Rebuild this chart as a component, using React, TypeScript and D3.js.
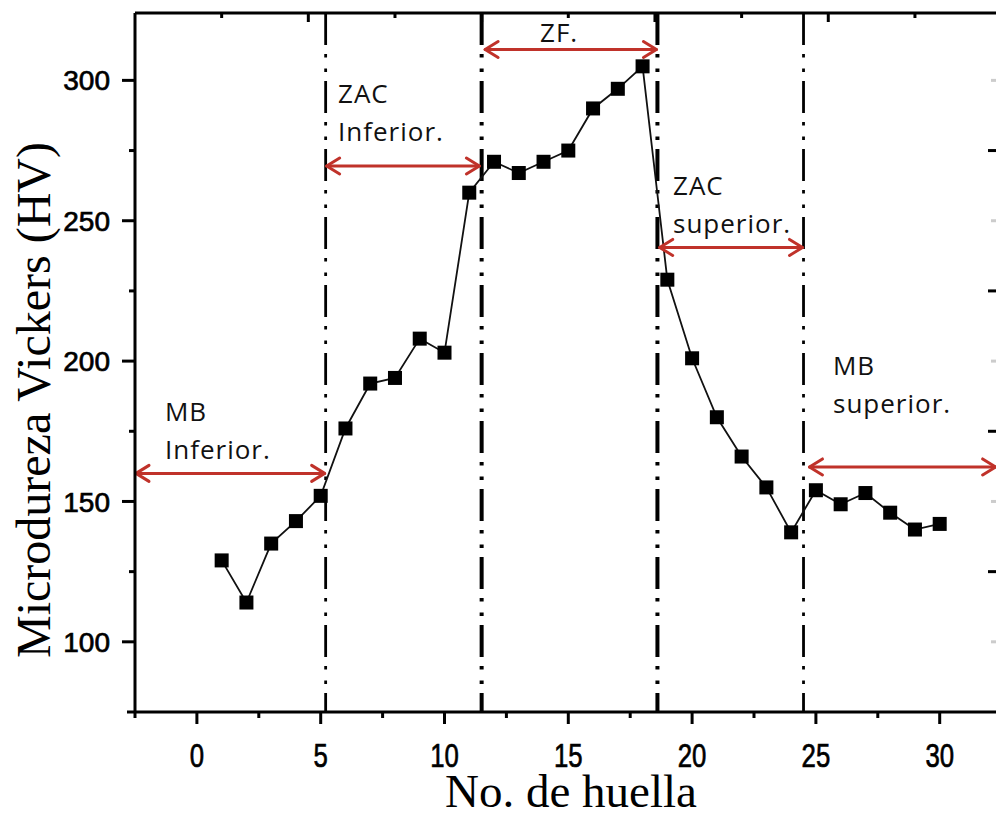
import React from 'react';
import * as d3 from 'd3';

const huella = [1, 2, 3, 4, 5, 6, 7, 8, 9, 10, 11, 12, 13, 14, 15, 16, 17, 18, 19, 20, 21, 22, 23, 24, 25, 26, 27, 28, 29, 30];
const dureza = [129, 114, 135, 143, 152, 176, 192, 194, 208, 203, 260, 271, 267, 271, 275, 290, 297, 305, 229, 201, 180, 166, 155, 139, 154, 149, 153, 146, 140, 142];

const xMajorTicks = [0, 5, 10, 15, 20, 25, 30];
const xMinorTicks = [-2.5, 2.5, 7.5, 12.5, 17.5, 22.5, 27.5, 32.5];
const yMajorTicks = [100, 150, 200, 250, 300];
const yMinorTicks = [125, 175, 225, 275];
const rightMajorTicks = [275, 225, 175, 125];
const rightMinorTicks = [300, 250, 200, 150, 100];
const topMajorTicks = [4.5, 11.5, 18.5, 25.5];
const topMinorTicks = [1, 8, 15, 22, 29];

const zoneLimits = [5.2, 11.5, 18.6, 24.5];
const zoneLimitHeavy = [false, true, true, false];

const arrowFrom = [-2.5, 5.2, 11.6, 18.65, 24.7];
const arrowTo = [5.2, 11.45, 18.6, 24.5, 32.3];
const arrowLevel = [160, 269.5, 311, 240.5, 162.3];

const labelLines = [['MB', 'Inferior.'], ['ZAC', 'Inferior.'], ['ZF.'], ['ZAC', 'superior.'], ['MB', 'superior.']];
const labelX = [-1.29, 5.7, 13.86, 19.23, 25.69];
const labelY = [178.6, 291.9, 313.7, 259.2, 195.0];

const W = 996;
const H = 818;

export default function App() {
  const x = d3.scaleLinear().domain([-2.5, 32.5]).range([135, 135 + 35 * 24.76]);
  const y = d3.scaleLinear().domain([75, 324]).range([712, 13]);
  const line = d3.line<number>().x((_, i) => x(huella[i])).y((d) => y(d));
  const red = '#c0322a';
  const ms = 14;
  const tickFont = '"Liberation Sans", Arial, sans-serif';
  const labelFont = '"Open Sans", sans-serif';
  const serif = '"Liberation Serif", "Times New Roman", serif';

  return (
    <svg width={W} height={H} style={{ position: 'absolute', left: 0, top: 0, background: '#fff' }}>
      <rect x={0} y={0} width={W} height={H} fill="#fff" />
      {/* zone boundaries */}
      {zoneLimits.map((v, i) => (
        <line key={'z' + i} x1={x(v)} x2={x(v)} y1={y(324)} y2={y(75)} stroke="#000"
          strokeWidth={zoneLimitHeavy[i] ? 4 : 2.8} strokeDasharray="32 9 3.5 11 3.5 9" />
      ))}
      {/* data line */}
      <path d={line(dureza) || ''} fill="none" stroke="#111" strokeWidth={1.8} />
      {dureza.map((d, i) => (
        <rect key={'p' + i} x={x(huella[i]) - ms / 2} y={y(d) - ms / 2} width={ms} height={ms} fill="#000" />
      ))}
      {/* arrows */}
      {arrowFrom.map((a, i) => {
        const x1 = x(a), x2 = x(arrowTo[i]), yy = y(arrowLevel[i]);
        return (
          <g key={'a' + i} stroke={red} strokeWidth={3} fill="none" strokeLinecap="round" strokeLinejoin="round">
            <line x1={x1 + 1} x2={x2 - 1} y1={yy} y2={yy} />
            <path d={`M${x1 + 14},${yy - 8} L${x1 + 1},${yy} L${x1 + 14},${yy + 8}`} />
            <path d={`M${x2 - 14},${yy - 8} L${x2 - 1},${yy} L${x2 - 14},${yy + 8}`} />
          </g>
        );
      })}
      {/* zone labels */}
      {labelLines.map((ls, i) => (
        <text key={'l' + i} x={x(labelX[i])} y={y(labelY[i])} fontFamily={labelFont} fontSize={26}
          letterSpacing={1} fill="#111">
          {ls.map((t, j) => (
            <tspan key={j} x={x(labelX[i])} dy={j === 0 ? 0 : 38}>{t}</tspan>
          ))}
        </text>
      ))}
      {/* axes */}
      <line x1={135} x2={135} y1={y(324)} y2={y(75)} stroke="#000" strokeWidth={3} />
      <line x1={127} x2={W} y1={y(75)} y2={y(75)} stroke="#000" strokeWidth={3} />
      <line x1={135} x2={W} y1={y(324)} y2={y(324)} stroke="#000" strokeWidth={3} />
      {yMajorTicks.map((t) => (
        <g key={'ym' + t}>
          <line x1={122} x2={135} y1={y(t)} y2={y(t)} stroke="#000" strokeWidth={3} />
          <text x={110} y={y(t)} dy="0.36em" textAnchor="end" fontFamily={tickFont} fontSize={28} fill="#000"
            stroke="#000" strokeWidth={0.7}>{t}</text>
        </g>
      ))}
      {yMinorTicks.map((t) => (
        <line key={'yn' + t} x1={129} x2={135} y1={y(t)} y2={y(t)} stroke="#000" strokeWidth={3} />
      ))}
      {xMajorTicks.map((t) => (
        <g key={'xm' + t}>
          <line x1={x(t)} x2={x(t)} y1={712} y2={724} stroke="#000" strokeWidth={3} />
          <text transform={`translate(${x(t)},767) scale(0.92,1.18)`} textAnchor="middle" fontFamily={tickFont}
            fontSize={28} fill="#000" stroke="#000" strokeWidth={0.6}>{t}</text>
        </g>
      ))}
      {xMinorTicks.map((t) => (
        <line key={'xn' + t} x1={x(t)} x2={x(t)} y1={712} y2={718} stroke="#000" strokeWidth={3} />
      ))}
      {topMajorTicks.map((t) => (
        <line key={'tm' + t} x1={x(t)} x2={x(t)} y1={13} y2={22} stroke="#000" strokeWidth={3} />
      ))}
      {topMinorTicks.map((t) => (
        <line key={'tn' + t} x1={x(t)} x2={x(t)} y1={13} y2={18} stroke="#000" strokeWidth={3} />
      ))}
      {rightMajorTicks.map((t) => (
        <line key={'rm' + t} x1={988} x2={W} y1={y(t)} y2={y(t)} stroke="#000" strokeWidth={3} />
      ))}
      {rightMinorTicks.map((t) => (
        <line key={'rn' + t} x1={991} x2={W} y1={y(t)} y2={y(t)} stroke="#ccc" strokeWidth={3} />
      ))}
      {/* axis titles */}
      <text x={571} y={807} textAnchor="middle" fontFamily={serif} fontSize={47} fill="#000">No. de huella</text>
      <text transform="translate(50,400) rotate(-90)" textAnchor="middle" fontFamily={serif} fontSize={48} fill="#000">Microdureza Vickers (HV)</text>
    </svg>
  );
}
